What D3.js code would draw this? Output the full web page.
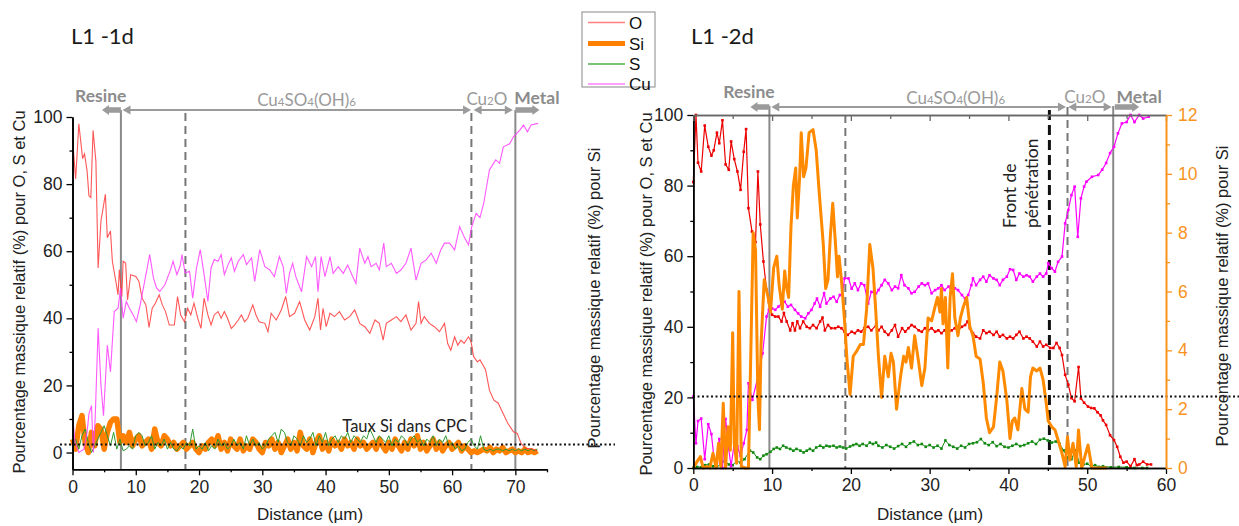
<!DOCTYPE html>
<html><head><meta charset="utf-8">
<script src="https://cdn.jsdelivr.net/npm/d3@7"></script>
<style>body{margin:0;background:#fff}svg{display:block}</style>
</head><body>
<svg id="c" width="1239" height="526"></svg>
<script>
// ---------------- DATA ----------------
// Panel L1 -1d : distance (µm), relative mass %
const L1d_O = [[0,90],[0.15,90],[0.5,81.5],[1.0,98],[1.6,87.6],[1.9,89],[2.3,84],[2.6,76.5],[2.9,76],[3.25,96],[3.7,86.7],[4.05,55],[4.5,69],[5.2,77],[5.5,64],[6.0,66],[6.3,57],[6.9,50.5],[7.2,47],[7.4,54.5],[7.8,46.5],[8.0,57],[8.4,56.5],[8.7,45.5],[9.2,53],[10.0,52.5],[10.5,51],[11.0,46],[11.6,44],[12.1,37.3],[12.6,43],[13.1,44.5],[13.7,47],[14.2,44],[14.7,42],[15.3,38],[16.1,38],[16.6,46.5],[17.1,41],[17.7,39],[18.2,43],[18.7,41],[19.2,44.5],[19.8,40],[20.3,37],[20.8,46],[21.4,41],[21.9,38],[22.4,41],[23.0,42],[23.5,40],[24.0,42],[24.5,40],[25.1,37],[25.6,38],[26.2,39.5],[26.7,41],[27.2,39],[27.7,40],[28.5,44],[29.0,41],[29.5,39],[30.4,38.5],[30.9,36],[31.4,41.5],[32.2,39.5],[33.0,42.5],[33.7,46.5],[34.3,40.5],[35.1,41.5],[35.9,45],[36.7,39.5],[37.5,36.5],[38.3,40.5],[38.8,46],[39.2,36.5],[39.6,43],[40.1,37.5],[40.7,41.5],[41.4,40.5],[42.2,42],[43.0,39.5],[43.8,40.5],[44.6,42.5],[45.4,38.5],[46.2,37.5],[47.0,35.5],[47.8,39.5],[48.5,38.5],[49.1,33.5],[49.6,38.5],[50.4,39.5],[51.2,40.5],[51.9,39],[52.7,41],[53.5,36.5],[54.3,38.5],[54.7,45],[55.1,38.5],[55.6,40.5],[56.4,38.5],[57.2,37.5],[58.0,36],[58.8,38.5],[59.3,32.5],[59.8,30.5],[60.4,34.5],[60.9,32],[61.4,33.5],[61.9,32.5],[62.6,34.5],[63.0,33],[63.4,28.6],[64.0,27],[64.4,27.6],[64.9,26],[65.3,24.6],[65.9,18.6],[66.6,15.6],[67.3,14.7],[67.8,12.7],[68.8,8.7],[69.7,6.2],[70.3,5.7],[70.9,2.7],[71.6,1.2],[72.5,1.2],[73.4,0.5]];
const L1d_Cu = [[0,11.5],[0.4,3],[1.0,0],[1.8,1],[2.3,6],[2.6,11.5],[3.0,14],[3.3,0],[3.6,11],[4.05,37],[4.5,20],[4.9,11],[5.5,32],[6.0,24],[6.6,42],[7.2,43],[7.6,49],[8.0,40],[8.5,45],[9.0,43],[9.6,41],[10.1,39],[10.7,44],[11.4,51],[12.2,59],[12.8,52],[13.3,49],[13.8,48],[14.6,50],[15.4,54],[15.9,57],[16.5,53],[17.0,55.5],[17.3,59],[17.8,53.5],[18.5,54],[19.0,46],[19.6,55],[20.2,60.5],[20.8,53],[21.4,45],[21.9,55],[22.4,57.5],[23.0,57],[23.5,59],[24.0,53],[24.6,56],[25.1,58],[25.6,54],[26.2,57],[27.0,59],[27.5,56],[28.3,58],[28.8,51],[29.6,60.5],[30.4,55.4],[31.2,54.4],[31.9,52.4],[32.7,58.4],[33.3,55.4],[33.8,47.4],[34.3,53.4],[34.8,56.4],[35.3,52.4],[36.2,47.9],[37.0,58.4],[37.8,55.4],[38.4,58.4],[38.8,47.9],[39.3,58.4],[39.9,52.4],[40.7,58.4],[41.2,53.4],[42.0,55.4],[42.8,53.4],[43.5,55.9],[44.3,52.4],[44.8,50.4],[45.4,60.9],[46.2,56.4],[46.7,58.4],[47.2,55.4],[48.0,56.4],[48.5,54.4],[49.2,62.4],[49.6,55.4],[50.4,56.4],[51.2,53.4],[51.9,54.4],[52.7,56.4],[53.5,60.9],[54.3,51.4],[55.1,56.4],[55.9,57.4],[56.7,59.4],[57.5,56.4],[58.2,60.4],[58.8,62.4],[59.6,62.4],[60.4,60.4],[61.2,67.3],[62.0,63.9],[62.6,61.9],[63.1,67.3],[63.8,71.3],[64.4,70],[65.0,74.3],[65.9,84.2],[66.9,87.2],[67.5,86.2],[68.1,91.1],[69.1,92],[69.7,94.1],[70.7,96.1],[71.3,97.6],[71.9,95.6],[72.5,97.6],[73.6,98.1]];
const L1d_step = 0.5; // sampling step of the S and Si profiles (µm)
const L1d_Si = [4,1,8,11,3,0,6,2,8,7,1,6,9,10,10,3,5,3,6,2,4,5,2,3,4,1,7,3,2,5,4,2,3,1,2,3,1,2,3,1,0,2,1,3,4,2,5,1,3,0.5,4,2,1,4,0.5,2,1,4,3,1,0,3,2,4,1,3,0,2,4,1,3,0.5,6,2,1,4,0,3,5,1,3,0.5,4,2,3,1,4,2,3,1,4,2,3,1,2,3,1,4,2,0.5,3,1,4,2,0.5,3,1,4,2,5,1,3,0.5,2,4,1,3,0.5,2,3,1,2,3,0.5,2,1,0,0.5,0,0.5,1,0.5,1.5,0,1,0.5,1.5,0,0.5,1,0,0.5,0,1,0,0.5,0,0.5];
const L1d_S = [2,4,1,5,7,3,0,2,4,6,8,5,2,6,1,4,0.5,1,2,1,5,6,5,2,3,5,1,3,2,4,1,3,1,0.5,2,1,3,2,7,1,2,1,3,0.5,2,1,4,2,3,1,2,4,2,3,1,5,2,4,2,3,1,2,4,5,6,3,7,6,3,2,5,4,2,5,3,4,6,2,5,3,6,2,4,5,3,5,4,6,3,5,4,3,5,4,7,5,3,5,4,3,5,2,4,3,5,4,2,4,5,3,4,2,4,3,5,2,4,3,5,2,3,1,2,0.5,1,3,4,2,1,5,1,0.5,1,0.5,1,1,0.5,1,0.5,1,0.5,1,0.5,1,0.5,1,0.5,1];
const L1d_siCPC = 2.4;
const L1d_solid = [7.65, 70];
const L1d_dashed = [17.85, 63.05];

// Panel L1 -2d
const L2d_O = [[0,81],[0.34,100],[0.6,86.5],[1.0,84],[1.45,97],[1.9,91],[2.3,88.5],[2.6,90],[3.0,95],[3.3,92],[3.7,98.5],[4.1,86],[4.5,84.5],[4.8,92.5],[5.2,87.5],[5.6,84],[6.0,78.8],[6.4,89.6],[6.7,96],[7.0,73.6],[7.45,67],[7.9,64],[8.2,84],[8.5,69],[8.9,58.5],[9.3,50.5],[9.6,47],[10.0,43.4],[10.4,42.9],[10.8,42.9],[11.2,41.5],[11.5,43.9],[11.85,41.5],[12.3,39],[12.6,41],[12.9,39],[13.2,41.5],[13.55,39.6],[13.95,41.5],[14.4,40],[14.8,39.6],[15.2,40.5],[15.65,39.6],[16.1,41.5],[16.4,42.6],[16.7,39],[17.1,40.5],[17.5,39.6],[18.0,39.6],[18.4,40],[18.8,39.6],[19.2,38.6],[19.6,37.7],[20.1,38.6],[20.5,38.2],[20.9,39],[21.3,38.6],[21.7,39.6],[22.2,40],[22.6,39],[23.2,40.5],[23.5,39],[23.9,40],[24.3,38.6],[24.75,37.7],[25.2,39],[25.6,40.5],[26.0,37.2],[26.5,39.6],[26.9,38.6],[27.3,39.6],[27.7,40.5],[28.1,40],[28.6,39],[29.0,38.6],[29.4,39.6],[29.8,39],[30.25,39.6],[30.7,38.6],[31.1,39],[31.5,38.2],[31.9,39],[32.4,38.6],[32.8,39],[33.2,39.6],[33.6,39],[34.1,40],[34.5,40.5],[34.8,41.5],[35.1,39.6],[35.5,38.2],[35.9,37.2],[36.4,36.7],[36.8,39],[37.2,38.2],[37.6,38.6],[38.1,37.7],[38.5,38.6],[38.9,37.2],[39.3,37.7],[39.8,36.7],[40.2,37.2],[40.6,36.7],[41.0,37.7],[41.4,38.6],[41.9,36.7],[42.3,37.2],[42.7,36.7],[43.1,35.8],[43.6,34.4],[44.0,35.8],[44.4,34.4],[44.8,34.9],[45.3,34],[45.7,34],[46.1,35.4],[46.5,34],[46.8,32],[47.2,26.4],[47.6,23.6],[48.0,19.8],[48.4,18.9],[48.9,28.6],[49.2,19.7],[49.6,18.5],[50.1,17.4],[50.5,17],[50.9,16.9],[51.3,15.8],[51.7,14.9],[52.0,13.5],[52.4,12.2],[52.9,9.3],[53.4,7.9],[53.8,6],[54.2,3.2],[54.6,1.5],[55.0,1.8],[55.5,0.5],[56.0,2.5],[56.3,0.8],[56.6,1],[57.1,1.8],[57.6,1],[58.1,1]];
const L2d_Cu = [[0,20.2],[0.34,7],[0.6,13.3],[1.0,14],[1.45,2.5],[1.9,12.4],[2.3,9.6],[2.6,3.4],[3.0,1.5],[3.3,8.2],[3.7,0],[4.1,13.9],[4.5,5.3],[4.8,0.5],[5.2,7],[5.6,6.1],[6.0,3.4],[6.4,7],[6.8,10.8],[7.0,24],[7.5,19.3],[8.3,26.8],[8.8,32.5],[9.3,42.9],[9.6,44.8],[10.0,45.2],[10.4,44.8],[10.8,45.7],[11.2,46.6],[11.6,47.1],[12.0,45.7],[12.4,46.2],[12.9,44.8],[13.3,43.8],[13.7,42.9],[14.2,42.4],[14.6,43.8],[15.0,44.8],[15.4,46.6],[15.7,48],[16.1,45.7],[16.6,49.5],[16.9,46.6],[17.4,48],[17.8,48.5],[18.2,47.1],[18.6,49],[18.9,49],[19.2,53.7],[19.7,53.7],[20.1,50.8],[20.5,52.3],[20.9,50.4],[21.3,52.3],[21.7,51.8],[22.2,46.6],[22.6,49.9],[23.2,49.5],[23.5,50.4],[23.9,51.8],[24.3,53.3],[24.75,52.3],[25.2,50.4],[25.6,51.4],[26.0,50.9],[26.4,54.6],[26.8,51.8],[27.3,50.9],[27.7,49.5],[28.1,49.9],[28.6,51.4],[29.0,52.3],[29.4,51.8],[29.8,52.3],[30.25,49.5],[30.7,50.4],[31.1,50.9],[31.5,51.8],[31.9,50.4],[32.4,51.4],[32.8,49.9],[33.2,50.9],[33.6,50.4],[34.1,49],[34.5,48],[34.9,49],[35.3,51.8],[35.5,53.7],[35.9,51.8],[36.4,53.3],[36.8,54.2],[37.2,52.8],[37.6,54.6],[38.1,53.7],[38.5,53.3],[38.9,51.8],[39.3,53.3],[39.8,54.2],[40.2,56.3],[40.6,56.1],[41.0,53.3],[41.4,55.1],[41.9,54.2],[42.3,54.6],[42.7,54.2],[43.1,52.8],[43.6,54.2],[44.0,55.1],[44.4,54.2],[44.8,55.1],[45.05,58],[45.5,56.6],[45.9,55.6],[46.3,58.4],[46.8,59.9],[47.2,69.3],[47.6,73.1],[48.0,77.3],[48.4,79.7],[48.8,65.5],[49.2,76.4],[49.6,79.7],[49.9,81.1],[50.6,82.5],[51.4,83],[51.9,84.5],[52.4,86.4],[52.9,89.2],[53.4,91],[53.9,94.8],[54.4,97.6],[55.0,98],[55.5,100],[56.0,98],[56.6,100],[57.1,99],[57.8,99.5]];
const L2d_S = [[0,0],[0.5,0.3],[1.0,0.2],[1.5,0.8],[2.0,1.0],[2.5,0.5],[3.0,0.3],[3.5,1.2],[4.0,2.0],[4.5,1.0],[5.0,0.8],[5.5,2.0],[6.0,1.5],[6.5,2.5],[7.2,4.9],[7.6,4.4],[8.1,3.0],[8.5,2.5],[8.9,3.5],[9.3,3.9],[9.8,4.6],[10.2,5.4],[10.6,5.8],[11.0,5.4],[11.4,6.3],[11.8,5.8],[12.3,5.4],[12.7,4.9],[13.1,5.4],[13.6,4.9],[14.0,4.4],[14.4,4.9],[14.8,5.4],[15.2,4.9],[15.6,5.8],[16.1,6.3],[16.5,5.8],[16.9,6.3],[17.3,6.1],[17.8,6.3],[18.2,5.8],[18.6,6.1],[19.0,5.8],[19.4,5.5],[19.9,6.1],[20.3,6.5],[20.7,6.8],[21.1,6.3],[21.5,6.8],[22.0,6.3],[22.4,7.2],[22.8,6.8],[23.2,7.2],[23.5,6.3],[24.0,5.8],[24.5,6.5],[25.0,6.0],[25.5,5.5],[26.0,6.2],[26.5,6.8],[27.0,6.0],[27.5,7.0],[28.0,7.5],[28.5,6.5],[29.0,6.8],[29.5,6.0],[30.0,6.5],[30.5,5.8],[31.0,6.3],[31.5,5.5],[32.0,7.8],[32.5,6.5],[33.0,6.0],[33.5,5.5],[34.0,6.3],[34.5,5.8],[35.0,6.8],[35.5,7.0],[36.0,7.3],[36.5,8.2],[37.0,7.0],[37.5,6.5],[38.0,7.3],[38.5,6.2],[39.0,6.8],[39.5,6.0],[40.0,5.8],[40.5,6.3],[41.0,6.8],[41.5,6.2],[42.0,6.5],[42.5,7.0],[43.0,7.5],[43.5,6.8],[44.0,8.0],[44.5,8.3],[45.0,7.8],[45.5,7.2],[46.0,7.5],[46.5,6.8],[47.0,5.0],[47.5,3.0],[48.0,2.5],[48.5,5.0],[49.0,1.5],[49.5,1.0],[50.0,1.2],[50.5,0.5],[51.0,0.8],[51.5,0.3],[52.0,0.5],[53.0,0.2],[54.0,0.3],[55.0,0.2],[56.0,0],[57.0,0],[57.6,0]];
const L2d_Si = [[0,0],[0.6,0.27],[0.9,0.39],[1.25,0],[1.7,0.05],[2.1,0],[2.5,0.5],[2.9,0],[3.2,0.84],[3.5,0.05],[3.8,2.2],[4.1,0],[4.4,1.4],[4.7,0.6],[5.0,4.6],[5.2,0.84],[5.5,0.16],[5.8,6.0],[6.1,0.05],[6.6,0],[7.0,0],[7.3,3.9],[7.6,8.0],[7.9,7.4],[8.2,2.4],[8.4,1.3],[8.6,4.2],[9.0,6.4],[9.5,5.8],[9.8,5.3],[10.2,6.8],[10.6,7.2],[10.9,6.2],[11.3,5.4],[11.6,6.7],[11.8,6.2],[12.1,5.8],[12.4,8.2],[12.7,9.6],[13.0,10.2],[13.2,8.5],[13.5,9.9],[13.7,11.4],[14.0,9.9],[14.3,10.2],[14.7,11.4],[15.2,11.5],[15.6,10.8],[16.0,9.3],[16.5,7.6],[16.8,6.1],[17.1,6.4],[17.4,7.9],[17.7,9.0],[18.1,7.4],[18.3,6.5],[18.5,7.2],[18.8,6.4],[19.2,5.0],[19.5,3.7],[19.9,2.5],[20.3,3.8],[20.8,4.0],[21.2,4.2],[21.6,4.2],[22.0,5.4],[22.4,7.6],[22.8,6.8],[23.1,5.6],[23.5,3.8],[23.9,2.4],[24.3,3.8],[24.75,3.1],[25.1,3.9],[25.4,3.6],[25.8,2.0],[26.3,3.1],[26.7,3.8],[27.0,3.6],[27.3,4.1],[27.7,3.4],[28.1,4.5],[28.6,3.6],[29.0,2.8],[29.4,3.4],[29.8,5.1],[30.25,5.0],[30.7,5.5],[31.0,5.8],[31.3,5.3],[31.5,6.1],[31.7,4.9],[32.0,5.8],[32.3,3.4],[32.6,5.8],[32.9,6.6],[33.2,5.1],[33.6,4.5],[33.9,5.1],[34.3,5.5],[34.7,5.8],[35.1,4.8],[35.5,4.5],[35.9,3.8],[36.4,3.7],[36.8,2.9],[37.2,1.7],[37.6,1.2],[38.1,1.4],[38.5,2.4],[38.9,3.6],[39.3,3.3],[39.8,2.3],[40.2,1.0],[40.5,1.6],[40.8,1.7],[41.2,1.3],[41.7,2.7],[42.1,2.0],[42.5,1.9],[42.8,3.1],[43.1,3.4],[43.6,3.3],[44.0,3.4],[44.4,3.0],[44.8,2.2],[45.05,1.6],[45.5,1.4],[45.9,1.3],[46.3,0.95],[46.8,0.5],[47.2,0.05],[47.5,1.06],[47.8,0.27],[48.2,0.84],[48.6,0.05],[48.9,1.29],[49.3,0],[50.1,0.78],[50.6,0],[51.5,0],[52.5,0]];
const L2d_siCPC = 2.43;
const L2d_solid = [9.66, 53.3];
const L2d_dashed = [19.3, 47.5];
const L2d_front = 45.2;

const legendLabels = ["O", "Si", "S", "Cu"];
const yTicksMain = [0, 20, 40, 60, 80, 100];
const siTicks = [0, 2, 4, 6, 8, 10, 12];

// ---------------- DRAWING ----------------
const svg = d3.select("#c");
const SANS = "'Liberation Sans', Arial, sans-serif";
const CAL = "Lato, 'Open Sans', sans-serif";
const GRAY = "#9b9b9b";

function styleAxis(g, color) {
  g.selectAll("path.domain").attr("stroke", color).attr("stroke-width", 1.6);
  g.selectAll(".tick line").attr("stroke", color).attr("stroke-width", 1.3);
  g.selectAll(".tick text").attr("font-family", SANS).attr("font-size", 17.5).attr("fill", color === "#000" ? "#222" : color);
}

function thinArrow(g, x1, x2, y, lh, rh) {
  g.append("line").attr("x1", x1 + (lh ? 4 : 0)).attr("x2", x2 - (rh ? 4 : 0)).attr("y1", y).attr("y2", y)
    .attr("stroke", GRAY).attr("stroke-width", 2);
  if (lh) g.append("path").attr("d", `M${x1},${y}L${x1 + 8},${y - 4.5}L${x1 + 8},${y + 4.5}Z`).attr("fill", GRAY);
  if (rh) g.append("path").attr("d", `M${x2},${y}L${x2 - 8},${y - 4.5}L${x2 - 8},${y + 4.5}Z`).attr("fill", GRAY);
}
function blockArrow(g, x1, x2, y, dir) {
  const h = 2.8, H = 5, hl = 7;
  let d;
  if (dir === "left") d = `M${x1},${y}L${x1 + hl},${y - H}L${x1 + hl},${y - h}L${x2},${y - h}L${x2},${y + h}L${x1 + hl},${y + h}L${x1 + hl},${y + H}Z`;
  else d = `M${x2},${y}L${x2 - hl},${y - H}L${x2 - hl},${y - h}L${x1},${y - h}L${x1},${y + h}L${x2 - hl},${y + h}L${x2 - hl},${y + H}Z`;
  g.append("path").attr("d", d).attr("fill", GRAY);
}
function phaseLabel(g, x, y, parts, opts = {}) {
  const t = g.append("text").attr("x", x).attr("y", y).attr("text-anchor", "middle")
    .attr("font-family", CAL).attr("font-size", opts.size || 17).attr("fill", opts.color || "#9a9a9a")
    .attr("font-weight", opts.bold ? "bold" : "normal");
  parts.forEach(p => {
    if (typeof p === "string") t.append("tspan").text(p).attr("dy", 0);
    else t.append("tspan").text(p.sub).attr("font-size", 11.5);
  });
}
function rotText(x, y, txt, size, family, anchor) {
  svg.append("text").attr("transform", `translate(${x},${y}) rotate(-90)`).attr("text-anchor", anchor || "middle")
    .attr("dy", "0.35em").attr("font-family", family).attr("font-size", size).attr("fill", "#222").text(txt);
}

// ===== Panel 1 =====
const xL = d3.scaleLinear().domain([0, 75]).range([72.5, 547]);
const yL = d3.scaleLinear().domain([-5, 100]).range([469.3, 117]);
const p1 = svg.append("g");

L1d_solid.forEach(v => p1.append("line").attr("x1", xL(v)).attr("x2", xL(v)).attr("y1", 110).attr("y2", yL(-5))
  .attr("stroke", "#8a8a8a").attr("stroke-width", 2));
L1d_dashed.forEach(v => p1.append("line").attr("x1", xL(v)).attr("x2", xL(v)).attr("y1", 113).attr("y2", yL(-5))
  .attr("stroke", "#777").attr("stroke-width", 2).attr("stroke-dasharray", "8,5"));

const lineL = d3.line().x(d => xL(d[0])).y(d => yL(d[1]));
const stepLine = d3.line().x((d, i) => xL(i * L1d_step)).y(d => yL(d));
p1.append("path").attr("d", stepLine(L1d_Si)).attr("fill", "none").attr("stroke", "#ff8000").attr("stroke-width", 5.5).attr("stroke-linejoin", "round");
p1.append("path").attr("d", stepLine(L1d_S)).attr("fill", "none").attr("stroke", "#2f9a2f").attr("stroke-width", 1);
p1.append("path").attr("d", lineL(L1d_O)).attr("fill", "none").attr("stroke", "#ff3a3a").attr("stroke-width", 1.1).attr("opacity", 0.85);
p1.append("path").attr("d", lineL(L1d_Cu)).attr("fill", "none").attr("stroke", "#ff3cff").attr("stroke-width", 1.1).attr("opacity", 0.85);

p1.append("line").attr("x1", 60).attr("x2", 615).attr("y1", yL(L1d_siCPC)).attr("y2", yL(L1d_siCPC))
  .attr("stroke", "#111").attr("stroke-width", 2).attr("stroke-dasharray", "2,2.5");
p1.append("text").attr("x", 467).attr("y", 432).attr("text-anchor", "end").attr("font-family", CAL).attr("font-size", 16.5)
  .attr("fill", "#222").text("Taux Si dans CPC");

const axL = p1.append("g").attr("transform", `translate(${xL(0)},0)`)
  .call(d3.axisLeft(yL).tickValues(yTicksMain).tickSize(6).tickSizeOuter(0).tickPadding(4));
styleAxis(axL, "#000");
const axLm = p1.append("g").attr("transform", `translate(${xL(0)},0)`)
  .call(d3.axisLeft(yL).tickValues([10, 30, 50, 70, 90]).tickSize(3).tickSizeOuter(0).tickFormat(""));
styleAxis(axLm, "#000");
const axB = p1.append("g").attr("transform", `translate(0,${yL(-5)})`)
  .call(d3.axisBottom(xL).tickValues(d3.range(0, 71, 10)).tickSize(6).tickSizeOuter(0).tickPadding(5));
styleAxis(axB, "#000");
const axBm = p1.append("g").attr("transform", `translate(0,${yL(-5)})`)
  .call(d3.axisBottom(xL).tickValues(d3.range(5, 76, 10)).tickSize(3).tickSizeOuter(0).tickFormat(""));
styleAxis(axBm, "#000");

blockArrow(p1, xL(4.66), xL(7.65), 110, "left");
thinArrow(p1, xL(7.9), xL(63.0), 110, true, true);
thinArrow(p1, xL(63.4), xL(69.6), 110, true, true);
blockArrow(p1, xL(70.0), xL(73.8), 110, "right");
phaseLabel(p1, xL(4.47), 101.5, ["Resine"], { bold: true, color: "#8c8c8c", size: 17.5 });
phaseLabel(p1, xL(37.0), 106, ["Cu", { sub: "4" }, "SO", { sub: "4" }, "(OH)", { sub: "6" }]);
phaseLabel(p1, xL(65.5), 105, ["Cu", { sub: "2" }, "O"]);
phaseLabel(p1, xL(73.4), 103.5, ["Metal"], { bold: true, color: "#8c8c8c", size: 17.5 });

p1.append("text").attr("x", 71).attr("y", 44).attr("font-family", CAL).attr("font-size", 22).attr("fill", "#1a1a1a").text("L1 -1d");
rotText(19, 292, "Pourcentage massique relatif (%) pour O, S et Cu", 16.5, SANS);
rotText(594, 298, "Pourcentage massique relatif (%) pour Si", 16.5, SANS);
p1.append("text").attr("x", 310).attr("y", 520).attr("text-anchor", "middle").attr("font-family", SANS).attr("font-size", 17).attr("fill", "#222").text("Distance (µm)");

// ===== Panel 2 =====
const xR = d3.scaleLinear().domain([0, 60]).range([693.3, 1166]);
const yR = d3.scaleLinear().domain([0, 100]).range([468, 115]);
const ySi = d3.scaleLinear().domain([0, 12]).range([468, 115]);
const p2 = svg.append("g");

L2d_solid.forEach(v => p2.append("line").attr("x1", xR(v)).attr("x2", xR(v)).attr("y1", 106).attr("y2", yR(0))
  .attr("stroke", "#8a8a8a").attr("stroke-width", 2));
L2d_dashed.forEach((v, i) => p2.append("line").attr("x1", xR(v)).attr("x2", xR(v)).attr("y1", i ? 107 : 115).attr("y2", yR(0))
  .attr("stroke", "#777").attr("stroke-width", 2).attr("stroke-dasharray", "8,5"));
p2.append("line").attr("x1", xR(L2d_front)).attr("x2", xR(L2d_front)).attr("y1", 110).attr("y2", yR(0))
  .attr("stroke", "#111").attr("stroke-width", 3).attr("stroke-dasharray", "10,5");

const lineR = d3.line().x(d => xR(d[0])).y(d => yR(d[1]));
const lineSi = d3.line().x(d => xR(d[0])).y(d => ySi(d[1]));
function markedSeries(data, color, w) {
  p2.append("path").attr("d", lineR(data)).attr("fill", "none").attr("stroke", color).attr("stroke-width", w);
  p2.append("g").selectAll("rect").data(data).join("rect")
    .attr("x", d => xR(d[0]) - 1.3).attr("y", d => yR(d[1]) - 1.3).attr("width", 2.6).attr("height", 2.6).attr("fill", color);
}
markedSeries(L2d_S, "#128a12", 1);
markedSeries(L2d_O, "#ec0000", 1.2);
markedSeries(L2d_Cu, "#ff00ff", 1.2);
p2.append("path").attr("d", lineSi(L2d_Si)).attr("fill", "none").attr("stroke", "#ff8a00").attr("stroke-width", 3).attr("stroke-linejoin", "round");

p2.append("line").attr("x1", 693).attr("x2", 1239).attr("y1", ySi(L2d_siCPC)).attr("y2", ySi(L2d_siCPC))
  .attr("stroke", "#111").attr("stroke-width", 2).attr("stroke-dasharray", "2,2.5");

const ax2L = p2.append("g").attr("transform", `translate(${xR(0)},0)`)
  .call(d3.axisLeft(yR).tickValues(yTicksMain).tickSize(6).tickSizeOuter(0).tickPadding(4));
styleAxis(ax2L, "#000");
const ax2Lm = p2.append("g").attr("transform", `translate(${xR(0)},0)`)
  .call(d3.axisLeft(yR).tickValues([10, 30, 50, 70, 90]).tickSize(3).tickSizeOuter(0).tickFormat(""));
styleAxis(ax2Lm, "#000");
const ax2B = p2.append("g").attr("transform", `translate(0,${yR(0)})`)
  .call(d3.axisBottom(xR).tickValues(d3.range(0, 61, 10)).tickSize(6).tickSizeOuter(0).tickPadding(5));
styleAxis(ax2B, "#000");
const ax2Bm = p2.append("g").attr("transform", `translate(0,${yR(0)})`)
  .call(d3.axisBottom(xR).tickValues(d3.range(5, 60, 10)).tickSize(3).tickSizeOuter(0).tickFormat(""));
styleAxis(ax2Bm, "#000");
const ax2T = p2.append("g").attr("transform", `translate(0,${yR(100)})`)
  .call(d3.axisTop(xR).tickValues(d3.range(0, 61, 10)).tickSize(-6).tickSizeOuter(0).tickFormat(""));
styleAxis(ax2T, "#666");
const ax2Tm = p2.append("g").attr("transform", `translate(0,${yR(100)})`)
  .call(d3.axisTop(xR).tickValues(d3.range(5, 60, 10)).tickSize(-4).tickSizeOuter(0).tickFormat(""));
styleAxis(ax2Tm, "#666");
const ax2R = p2.append("g").attr("transform", `translate(${xR(60)},0)`)
  .call(d3.axisRight(ySi).tickValues(siTicks).tickSize(6).tickSizeOuter(0).tickPadding(6));
styleAxis(ax2R, "#f7931e");
const ax2Rm = p2.append("g").attr("transform", `translate(${xR(60)},0)`)
  .call(d3.axisRight(ySi).tickValues([1, 3, 5, 7, 9, 11]).tickSize(4).tickSizeOuter(0).tickFormat(""));
styleAxis(ax2Rm, "#f7931e");

blockArrow(p2, xR(7.25), xR(9.66), 107, "left");
thinArrow(p2, xR(9.9), xR(47.3), 107, true, true);
thinArrow(p2, xR(47.6), xR(53.1), 107, true, true);
blockArrow(p2, xR(53.5), xR(56.6), 107, "right");
phaseLabel(p2, xR(7.07), 97.5, ["Resine"], { bold: true, color: "#8c8c8c", size: 17.5 });
phaseLabel(p2, xR(33.3), 104, ["Cu", { sub: "4" }, "SO", { sub: "4" }, "(OH)", { sub: "6" }]);
phaseLabel(p2, xR(49.7), 103, ["Cu", { sub: "2" }, "O"]);
phaseLabel(p2, xR(56.6), 102.5, ["Metal"], { bold: true, color: "#8c8c8c", size: 17.5 });

rotText(1010, 228, "Front de", 17.5, CAL, "start");
rotText(1032, 228, "pénétration", 17.5, CAL, "start");

p2.append("text").attr("x", 691).attr("y", 44).attr("font-family", CAL).attr("font-size", 22).attr("fill", "#1a1a1a").text("L1 -2d");
rotText(646, 294, "Pourcentage massique relatif (%) pour O, S et Cu", 16.5, SANS);
rotText(1222, 296, "Pourcentage massique relatif (%) pour Si", 16.5, SANS);
p2.append("text").attr("x", 930).attr("y", 520).attr("text-anchor", "middle").attr("font-family", SANS).attr("font-size", 17).attr("fill", "#222").text("Distance (µm)");

// ===== Legend =====
const leg = svg.append("g");
leg.append("rect").attr("x", 582).attr("y", 12).attr("width", 73).attr("height", 75).attr("fill", "#fff").attr("stroke", "#888").attr("stroke-width", 1);
const legStyles = [
  { c: "#ff8080", w: 1.5 }, { c: "#ff8000", w: 5 }, { c: "#4caf4c", w: 1.3 }, { c: "#ff80ff", w: 1.5 }
];
const legY = [22.5, 43.5, 64, 84];
legendLabels.forEach((lab, i) => {
  leg.append("line").attr("x1", 588).attr("x2", 625).attr("y1", legY[i]).attr("y2", legY[i])
    .attr("stroke", legStyles[i].c).attr("stroke-width", legStyles[i].w);
  leg.append("text").attr("x", 629).attr("y", legY[i]).attr("dy", "0.36em").attr("font-family", SANS).attr("font-size", 17)
    .attr("fill", "#111").text(lab);
});
</script>
</body></html>
